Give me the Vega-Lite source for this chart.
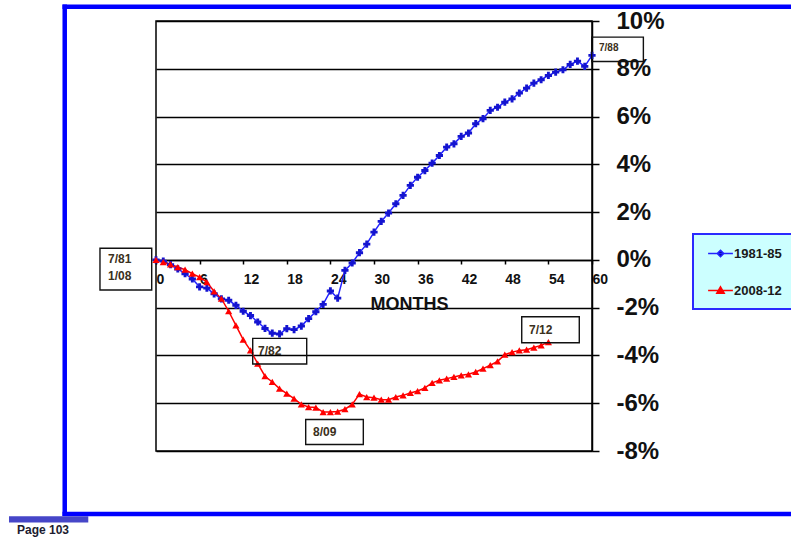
{
  "$schema": "https://vega.github.io/schema/vega-lite/v6.json",
  "width": 436,
  "height": 430,
  "autosize": {"type": "none"},
  "padding": {"left": 156, "top": 21, "right": 199, "bottom": 87},
  "background": "white",
  "config": {
    "view": {"stroke": "black", "strokeWidth": 1.5},
    "font": "Liberation Sans"
  },
  "datasets": {
    "series": [
      {"series": "1981-85", "month": 0, "value": 0},
      {"series": "1981-85", "month": 1, "value": -0.05},
      {"series": "1981-85", "month": 2, "value": -0.2},
      {"series": "1981-85", "month": 3, "value": -0.38},
      {"series": "1981-85", "month": 4, "value": -0.58},
      {"series": "1981-85", "month": 5, "value": -0.8},
      {"series": "1981-85", "month": 6, "value": -1.13},
      {"series": "1981-85", "month": 7, "value": -1.18},
      {"series": "1981-85", "month": 8, "value": -1.42},
      {"series": "1981-85", "month": 9, "value": -1.63},
      {"series": "1981-85", "month": 10, "value": -1.69},
      {"series": "1981-85", "month": 11, "value": -1.9},
      {"series": "1981-85", "month": 12, "value": -2.15},
      {"series": "1981-85", "month": 13, "value": -2.33},
      {"series": "1981-85", "month": 14, "value": -2.6},
      {"series": "1981-85", "month": 15, "value": -2.87},
      {"series": "1981-85", "month": 16, "value": -3.07},
      {"series": "1981-85", "month": 17, "value": -3.1},
      {"series": "1981-85", "month": 18, "value": -2.88},
      {"series": "1981-85", "month": 19, "value": -2.92},
      {"series": "1981-85", "month": 20, "value": -2.77},
      {"series": "1981-85", "month": 21, "value": -2.46},
      {"series": "1981-85", "month": 22, "value": -2.17},
      {"series": "1981-85", "month": 23, "value": -1.86},
      {"series": "1981-85", "month": 24, "value": -1.3},
      {"series": "1981-85", "month": 25, "value": -1.6},
      {"series": "1981-85", "month": 26, "value": -0.44},
      {"series": "1981-85", "month": 27, "value": -0.13},
      {"series": "1981-85", "month": 28, "value": 0.3},
      {"series": "1981-85", "month": 29, "value": 0.66},
      {"series": "1981-85", "month": 30, "value": 1.16},
      {"series": "1981-85", "month": 31, "value": 1.61},
      {"series": "1981-85", "month": 32, "value": 1.96},
      {"series": "1981-85", "month": 33, "value": 2.35},
      {"series": "1981-85", "month": 34, "value": 2.7},
      {"series": "1981-85", "month": 35, "value": 3.12},
      {"series": "1981-85", "month": 36, "value": 3.46},
      {"series": "1981-85", "month": 37, "value": 3.74},
      {"series": "1981-85", "month": 38, "value": 4.05},
      {"series": "1981-85", "month": 39, "value": 4.37},
      {"series": "1981-85", "month": 40, "value": 4.72},
      {"series": "1981-85", "month": 41, "value": 4.86},
      {"series": "1981-85", "month": 42, "value": 5.17},
      {"series": "1981-85", "month": 43, "value": 5.31},
      {"series": "1981-85", "month": 44, "value": 5.7},
      {"series": "1981-85", "month": 45, "value": 5.91},
      {"series": "1981-85", "month": 46, "value": 6.26},
      {"series": "1981-85", "month": 47, "value": 6.39},
      {"series": "1981-85", "month": 48, "value": 6.6},
      {"series": "1981-85", "month": 49, "value": 6.74},
      {"series": "1981-85", "month": 50, "value": 6.98},
      {"series": "1981-85", "month": 51, "value": 7.19},
      {"series": "1981-85", "month": 52, "value": 7.4},
      {"series": "1981-85", "month": 53, "value": 7.54},
      {"series": "1981-85", "month": 54, "value": 7.72},
      {"series": "1981-85", "month": 55, "value": 7.86},
      {"series": "1981-85", "month": 56, "value": 7.96},
      {"series": "1981-85", "month": 57, "value": 8.18},
      {"series": "1981-85", "month": 58, "value": 8.32},
      {"series": "1981-85", "month": 59, "value": 8.1},
      {"series": "1981-85", "month": 60, "value": 8.56},
      {"series": "2008-12", "month": 0, "value": 0},
      {"series": "2008-12", "month": 1, "value": -0.09},
      {"series": "2008-12", "month": 2, "value": -0.19},
      {"series": "2008-12", "month": 3, "value": -0.3},
      {"series": "2008-12", "month": 4, "value": -0.41},
      {"series": "2008-12", "month": 5, "value": -0.58},
      {"series": "2008-12", "month": 6, "value": -0.72},
      {"series": "2008-12", "month": 7, "value": -0.93},
      {"series": "2008-12", "month": 8, "value": -1.32},
      {"series": "2008-12", "month": 9, "value": -1.62},
      {"series": "2008-12", "month": 10, "value": -2.15},
      {"series": "2008-12", "month": 11, "value": -2.74},
      {"series": "2008-12", "month": 12, "value": -3.34},
      {"series": "2008-12", "month": 13, "value": -3.79},
      {"series": "2008-12", "month": 14, "value": -4.34},
      {"series": "2008-12", "month": 15, "value": -4.87},
      {"series": "2008-12", "month": 16, "value": -5.11},
      {"series": "2008-12", "month": 17, "value": -5.39},
      {"series": "2008-12", "month": 18, "value": -5.6},
      {"series": "2008-12", "month": 19, "value": -5.81},
      {"series": "2008-12", "month": 20, "value": -6.05},
      {"series": "2008-12", "month": 21, "value": -6.16},
      {"series": "2008-12", "month": 22, "value": -6.18},
      {"series": "2008-12", "month": 23, "value": -6.37},
      {"series": "2008-12", "month": 24, "value": -6.37},
      {"series": "2008-12", "month": 25, "value": -6.35},
      {"series": "2008-12", "month": 26, "value": -6.25},
      {"series": "2008-12", "month": 27, "value": -6.05},
      {"series": "2008-12", "month": 28, "value": -5.62},
      {"series": "2008-12", "month": 29, "value": -5.74},
      {"series": "2008-12", "month": 30, "value": -5.77},
      {"series": "2008-12", "month": 31, "value": -5.85},
      {"series": "2008-12", "month": 32, "value": -5.85},
      {"series": "2008-12", "month": 33, "value": -5.74},
      {"series": "2008-12", "month": 34, "value": -5.67},
      {"series": "2008-12", "month": 35, "value": -5.57},
      {"series": "2008-12", "month": 36, "value": -5.49},
      {"series": "2008-12", "month": 37, "value": -5.36},
      {"series": "2008-12", "month": 38, "value": -5.15},
      {"series": "2008-12", "month": 39, "value": -5.04},
      {"series": "2008-12", "month": 40, "value": -4.97},
      {"series": "2008-12", "month": 41, "value": -4.9},
      {"series": "2008-12", "month": 42, "value": -4.83},
      {"series": "2008-12", "month": 43, "value": -4.79},
      {"series": "2008-12", "month": 44, "value": -4.69},
      {"series": "2008-12", "month": 45, "value": -4.55},
      {"series": "2008-12", "month": 46, "value": -4.41},
      {"series": "2008-12", "month": 47, "value": -4.25},
      {"series": "2008-12", "month": 48, "value": -3.97},
      {"series": "2008-12", "month": 49, "value": -3.86},
      {"series": "2008-12", "month": 50, "value": -3.79},
      {"series": "2008-12", "month": 51, "value": -3.76},
      {"series": "2008-12", "month": 52, "value": -3.67},
      {"series": "2008-12", "month": 53, "value": -3.58},
      {"series": "2008-12", "month": 54, "value": -3.44}
    ],
    "frame": [
      {"m": -12.56, "m2": -12.56, "v": 10.69, "v2": -10.72},
      {"m": -12.87, "m2": 90, "v": 10.595, "v2": 10.595},
      {"m": -12.87, "m2": 90, "v": -10.637, "v2": -10.637}
    ],
    "pagebar": [
      {"m": -20.23, "m2": -9.32, "v": -10.863}
    ],
    "page": [
      {"label": "Page 103", "m": -19.13, "v": -11.295}
    ],
    "boxes": [
      {"label": "7/81 1/08", "m1": -7.71, "m2": -0.59, "v1": 0.486, "v2": -1.261},
      {"label": "7/82", "m1": 13.31, "m2": 20.74, "v1": -3.284, "v2": -4.361},
      {"label": "8/09", "m1": 20.6, "m2": 28.53, "v1": -6.679, "v2": -7.726},
      {"label": "7/12", "m1": 50.33, "m2": 58.25, "v1": -2.38, "v2": -3.469},
      {"label": "7/88", "m1": 59.96, "m2": 67.07, "v1": 9.326, "v2": 8.303}
    ],
    "notes": [
      {"label": "7/81", "m": -6.6, "v": 0.04},
      {"label": "1/08", "m": -6.6, "v": -0.66},
      {"label": "7/82", "m": 14.04, "v": -3.817},
      {"label": "8/09", "m": 21.6, "v": -7.197},
      {"label": "7/12", "m": 51.33, "v": -2.937}
    ],
    "smallnotes": [
      {"label": "7/88", "m": 60.96, "v": 8.89}
    ]
  },
  "layer": [
    {
      "data": {"name": "series"},
      "mark": {"type": "line", "strokeWidth": 1.5},
      "encoding": {
        "x": {
          "field": "month", "type": "quantitative",
          "scale": {"domain": [0, 60], "nice": false, "zero": false},
          "axis": {
            "orient": "bottom",
            "offset": -191,
            "values": [0, 3, 6, 9, 12, 15, 18, 21, 24, 27, 30, 33, 36, 39, 42, 45, 48, 51, 54, 57, 60],
            "labelExpr": "datum.value % 6 === 0 ? datum.label : ''",
            "labelAlign": "left",
            "labelDx": 1,
            "labelPadding": 8,
            "labelFont": "Liberation Sans",
            "labelFontSize": 14,
            "labelFontWeight": "bold",
            "labelColor": "#111111",
            "labelFlush": false,
            "labelOverlap": false,
            "tickSize": 4,
            "tickColor": "black",
            "tickWidth": 1.5,
            "domainColor": "black",
            "domainWidth": 1.5,
            "grid": false,
            "title": "MONTHS",
            "titleFont": "Liberation Sans",
            "titleFontSize": 18,
            "titleFontWeight": "bold",
            "titleColor": "#111111",
            "titleX": 253,
            "titleY": 44,
            "titleBaseline": "middle",
            "titleAlign": "center"
          }
        },
        "y": {
          "field": "value", "type": "quantitative",
          "scale": {"domain": [-8, 10], "nice": false, "zero": false},
          "axis": {
            "orient": "right",
            "values": [-8, -6, -4, -2, 0, 2, 4, 6, 8, 10],
            "labelExpr": "datum.value + '%'",
            "labelFont": "Liberation Sans",
            "labelFontSize": 24,
            "labelFontWeight": "bold",
            "labelColor": "#111111",
            "labelPadding": 17,
            "labelBaseline": "middle",
            "labelFlush": false,
            "labelOverlap": false,
            "tickSize": 7,
            "tickColor": "black",
            "tickWidth": 1.5,
            "domainColor": "black",
            "domainWidth": 1.5,
            "grid": true,
            "gridColor": "black",
            "gridWidth": 1.5,
            "gridOpacity": 1,
            "title": null
          }
        },
        "color": {
          "field": "series", "type": "nominal",
          "scale": {"domain": ["1981-85", "2008-12"], "range": ["#2222ff", "#ff0000"]},
          "legend": {
            "title": null,
            "orient": "none",
            "legendX": 537,
            "legendY": 213,
            "fillColor": "#ccffff",
            "strokeColor": "#2a2aff",
            "padding": 11,
            "rowPadding": 21,
            "symbolSize": 240,
            "symbolOffset": 8,
            "labelOffset": 5,
            "labelFont": "Liberation Sans",
            "labelFontSize": 13,
            "labelFontWeight": "bold",
            "labelColor": "#1a1a1a",
            "encode": {
              "symbols": {
                "update": {
                  "shape": {"signal": "datum.value === '1981-85' ? 'M-1.6,0H1.6M0,-0.42L0.42,0L0,0.42L-0.42,0Z' : 'M-1.6,0H1.6M0,-0.48L0.48,0.36L-0.48,0.36Z'"},
                  "fill": {"signal": "datum.value === '1981-85' ? '#000080' : '#ff0000'"},
                  "fillOpacity": {"value": 1},
                  "strokeWidth": {"value": 1.5},
                  "size": {"value": 240}
                }
              },
              "legend": {"update": {"strokeWidth": {"value": 2}}}
            }
          }
        }
      }
    },
    {
      "data": {"name": "series"},
      "transform": [{"filter": "datum.series === '1981-85'"}],
      "mark": {"type": "point", "filled": true, "opacity": 1, "size": 52, "shape": "cross", "fill": "#1414d0"},
      "encoding": {
        "x": {"field": "month", "type": "quantitative"},
        "y": {"field": "value", "type": "quantitative"}
      }
    },
    {
      "data": {"name": "series"},
      "transform": [{"filter": "datum.series === '2008-12'"}],
      "mark": {"type": "point", "filled": true, "opacity": 1, "size": 52, "shape": "triangle-up", "fill": "#ff0000"},
      "encoding": {
        "x": {"field": "month", "type": "quantitative"},
        "y": {"field": "value", "type": "quantitative"}
      }
    },
    {
      "data": {"name": "boxes"},
      "mark": {"type": "rect", "fill": "white", "fillOpacity": 0, "stroke": "#111111", "strokeWidth": 1.4},
      "encoding": {
        "x": {"field": "m1", "type": "quantitative"},
        "x2": {"field": "m2"},
        "y": {"field": "v1", "type": "quantitative"},
        "y2": {"field": "v2"}
      }
    },
    {
      "data": {"name": "frame"},
      "mark": {"type": "rule", "color": "#0000ff", "strokeWidth": 4.5, "strokeCap": "butt"},
      "encoding": {
        "x": {"field": "m", "type": "quantitative"},
        "x2": {"field": "m2"},
        "y": {"field": "v", "type": "quantitative"},
        "y2": {"field": "v2"}
      }
    },
    {
      "data": {"name": "pagebar"},
      "mark": {"type": "rule", "color": "#4646c8", "strokeWidth": 6.3},
      "encoding": {
        "x": {"field": "m", "type": "quantitative"},
        "x2": {"field": "m2"},
        "y": {"field": "v", "type": "quantitative"}
      }
    },
    {
      "data": {"name": "page"},
      "mark": {"type": "text", "align": "left", "baseline": "middle", "font": "Liberation Sans", "fontSize": 12, "fontWeight": "bold", "color": "#1c1c30"},
      "encoding": {
        "x": {"field": "m", "type": "quantitative"},
        "y": {"field": "v", "type": "quantitative"},
        "text": {"field": "label"}
      }
    },
    {
      "data": {"name": "notes"},
      "mark": {"type": "text", "align": "left", "baseline": "middle", "font": "Liberation Sans", "fontSize": 12, "fontWeight": "bold", "color": "#3a3020"},
      "encoding": {
        "x": {"field": "m", "type": "quantitative"},
        "y": {"field": "v", "type": "quantitative"},
        "text": {"field": "label"}
      }
    },
    {
      "data": {"name": "smallnotes"},
      "mark": {"type": "text", "align": "left", "baseline": "middle", "font": "Liberation Sans", "fontSize": 10, "fontWeight": "bold", "color": "#3a3020"},
      "encoding": {
        "x": {"field": "m", "type": "quantitative"},
        "y": {"field": "v", "type": "quantitative"},
        "text": {"field": "label"}
      }
    }
  ]
}
